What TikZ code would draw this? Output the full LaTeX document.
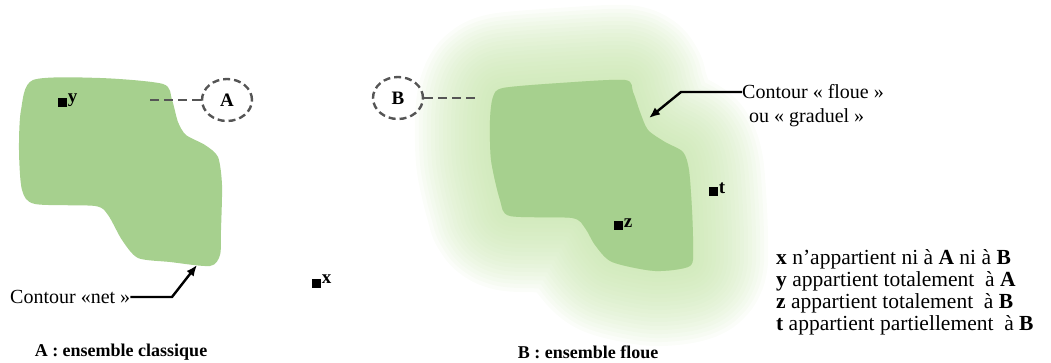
\documentclass[tikz,border=0pt]{standalone}
\usepackage{fontspec}
\setmainfont{Liberation Serif}
\usepackage{tikz}
\usetikzlibrary{shapes,arrows,arrows.meta,positioning,shapes.geometric}
\definecolor{setgreen}{RGB}{166,208,142}
\definecolor{halogreen}{RGB}{196,228,168}
\definecolor{dashgray}{RGB}{85,85,85}

\begin{document}
\begin{tikzpicture}[
        x=1pt, y=-1pt,
        txt/.style={font=\fontsize{20}{22}\selectfont, inner sep=0pt},
        elem/.style={fill=black, minimum size=9pt, inner sep=0pt},
        elemname/.style={font=\fontsize{19}{20}\selectfont\bfseries, inner sep=1pt},
        setname/.style={draw=dashgray, line width=2.4pt, dash pattern=on 7pt off 4pt, ellipse, minimum width=50pt, minimum height=42pt, inner sep=0pt, font=\fontsize{19}{20}\selectfont\bfseries},
        leader/.style={draw=dashgray, line width=2.4pt, dash pattern=on 9pt off 5pt},
        pointer/.style={draw=black, line width=2.4pt, -{Latex[length=11pt,width=9pt]}},
        caption/.style={font=\fontsize{18}{20}\selectfont\bfseries, inner sep=0pt}
    ]
        \useasboundingbox (0,0) rectangle (1051,363);

        % Set A (crisp contour)
        \fill[setgreen] plot[smooth cycle, tension=0.45] coordinates {(33,80) (100,78) (163,84) (172,100) (178,122) (186,135) (205,145) (218,157) (222,185) (221,230) (220,255) (210,266) (170,262) (138,258) (122,240) (108,215) (95,206) (35,204) (22,190) (19,150) (21,110)};

        % Set B (fuzzy contour)
        \foreach \w in {150,142,...,6}
            \draw[halogreen, line width=\w pt, line join=round, opacity=0.07] plot[smooth cycle, tension=0.45] coordinates {(503,88) (560,83) (625,80) (633,92) (640,112) (648,130) (665,142) (683,152) (689,170) (692,210) (693,245) (690,266) (655,271) (612,262) (595,245) (585,228) (572,218) (510,216) (500,200) (491,160) (490,120) (493,97)};
        \fill[halogreen, opacity=0.8] plot[smooth cycle, tension=0.45] coordinates {(503,88) (560,83) (625,80) (633,92) (640,112) (648,130) (665,142) (683,152) (689,170) (692,210) (693,245) (690,266) (655,271) (612,262) (595,245) (585,228) (572,218) (510,216) (500,200) (491,160) (490,120) (493,97)};
        \fill[setgreen] plot[smooth cycle, tension=0.45] coordinates {(503,88) (560,83) (625,80) (633,92) (640,112) (648,130) (665,142) (683,152) (689,170) (692,210) (693,245) (690,266) (655,271) (612,262) (595,245) (585,228) (572,218) (510,216) (500,200) (491,160) (490,120) (493,97)};

        % Set names
        \node[setname] (circA) at (227,100) {A};
        \node[setname] (circB) at (398,98) {B};
        \coordinate (leadA) at (147,100);
        \coordinate (leadB) at (480,98);
        \draw[leader] (circA.west) -- (leadA);
        \draw[leader] (circB.east) -- (leadB);

        % Elements
        \node[elem] (y) at (62,103) {};
        \node[elemname, right=0pt of y, yshift=3pt] (ylab) {y};
        \node[elem] (x) at (316,283) {};
        \node[elemname, right=0pt of x, yshift=4pt] (xlab) {x};
        \node[elem] (z) at (618,226) {};
        \node[elemname, right=0pt of z, yshift=3pt] (zlab) {z};
        \node[elem] (t) at (713,192) {};
        \node[elemname, right=0pt of t, yshift=4pt] (tlab) {t};

        % Contours
        \node[txt, anchor=west] (net) at (10,297) {Contour «net »};
        \coordinate (netBend) at (172,297);
        \coordinate (netTip) at (197,265);
        \draw[pointer] (net.east) -- (netBend) -- (netTip);

        \node[txt, anchor=west] (floue) at (742,92) {Contour « floue »};
        \node[txt, anchor=west] (graduel) at (749,118) {ou « graduel »};
        \coordinate (floueBend) at (681,92);
        \coordinate (floueTip) at (649,118);
        \draw[pointer] (floue.west) -- (floueBend) -- (floueTip);

        % Legend
        \node[txt, anchor=north west, align=left, font=\fontsize{21.5}{22}\selectfont] (legend) at (776,249) {%
            \textbf{x} n'appartient ni à \textbf{A} ni à \textbf{B}\\
            \textbf{y} appartient totalement \ à \textbf{A}\\
            \textbf{z} appartient totalement \ à \textbf{B}\\
            \textbf{t} appartient partiellement \ à \textbf{B}};

        % Captions
        \node[caption] (capA) at (121,352) {A : ensemble classique};
        \node[caption] (capB) at (588,352) {B : ensemble floue};
    \end{tikzpicture}
\end{document}
